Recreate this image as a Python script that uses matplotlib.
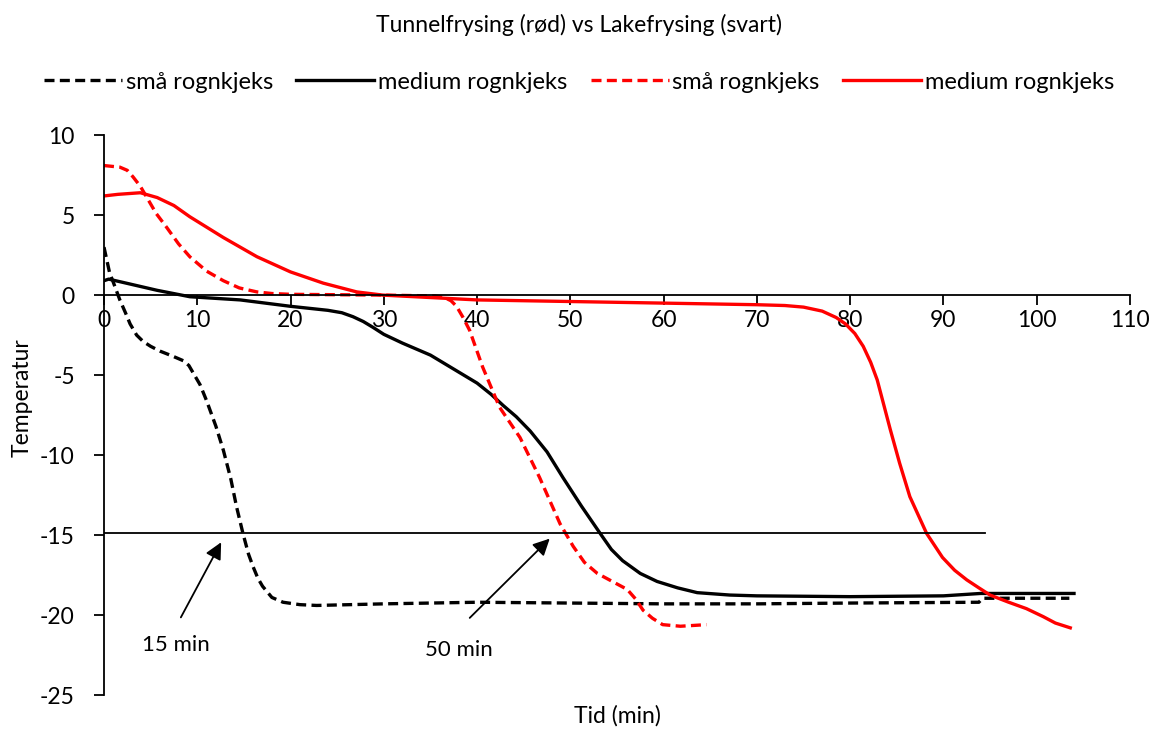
import matplotlib
matplotlib.use("Agg")
from matplotlib import pyplot as plt

plt.rcParams['font.family'] = ['Lato', 'DejaVu Sans']
plt.rcParams['axes.unicode_minus'] = False

# lakefrysing, små (svart stiplet)
lake_sma_x = [0, 0.3, 0.6, 1.0, 1.7, 2.3, 2.8, 3.5, 4.2, 5.0, 6.0, 7.3, 8.5, 9.1, 9.6, 10.3, 11.0, 12.0, 12.8, 13.6, 14.2, 14.9, 15.5, 16.0, 16.5, 17.0, 18.0, 19.2, 21.0, 22.8, 30, 40, 50, 60, 70, 80, 93.8, 94.2, 100, 103.5]
lake_sma_y = [3.0, 2.2, 1.4, 0.8, -0.3, -1.1, -1.8, -2.5, -2.9, -3.2, -3.5, -3.8, -4.1, -4.4, -4.9, -5.6, -6.6, -8.2, -9.7, -11.5, -13.2, -14.9, -16.2, -17.0, -17.7, -18.2, -18.9, -19.2, -19.35, -19.4, -19.3, -19.2, -19.25, -19.3, -19.3, -19.25, -19.2, -18.95, -18.95, -18.95]

# lakefrysing, medium (svart hel)
lake_med_x = [0, 0.5, 2.0, 5.7, 9.2, 14.6, 20.0, 24.0, 25.5, 26.7, 27.8, 28.8, 30.0, 32.0, 35.0, 38.0, 40.0, 41.5, 42.8, 44.2, 45.7, 47.5, 49.2, 51.2, 53.2, 54.4, 55.6, 57.5, 59.3, 61.5, 63.6, 67.1, 70, 80, 90, 94, 104]
lake_med_y = [0.9, 1.0, 0.8, 0.3, -0.1, -0.3, -0.7, -0.95, -1.1, -1.35, -1.65, -2.0, -2.45, -3.0, -3.75, -4.8, -5.5, -6.2, -6.9, -7.6, -8.5, -9.8, -11.4, -13.2, -14.9, -15.9, -16.6, -17.4, -17.9, -18.3, -18.6, -18.75, -18.8, -18.85, -18.8, -18.65, -18.65]

# tunnelfrysing, små (rød stiplet)
tunnel_sma_x = [0, 1.7, 2.5, 3.1, 3.9, 4.6, 5.6, 6.7, 8.0, 9.2, 11.0, 12.8, 14.5, 16.4, 18.0, 20.0, 30.0, 35.5, 36.5, 37.2, 37.8, 38.5, 39.2, 40.6, 42.4, 44.6, 46.7, 48.9, 50.3, 51.5, 52.9, 56.1, 57.0, 57.8, 58.8, 59.9, 61.8, 64.6]
tunnel_sma_y = [8.1, 8.0, 7.8, 7.4, 6.8, 6.1, 5.1, 4.25, 3.2, 2.4, 1.5, 0.9, 0.45, 0.2, 0.1, 0.05, 0.0, -0.05, -0.15, -0.35, -0.7, -1.4, -2.2, -4.5, -7.0, -8.9, -11.4, -14.3, -15.7, -16.7, -17.4, -18.4, -19.0, -19.7, -20.2, -20.6, -20.7, -20.6]

# tunnelfrysing, medium (rød hel)
tunnel_med_x = [0, 1.5, 3.9, 5.7, 7.5, 9.2, 12.8, 16.4, 20.0, 23.5, 27.1, 29.9, 40, 50, 60, 70, 73, 75, 77, 78.5, 79.5, 80.5, 81.4, 82.2, 82.9, 84.3, 85.3, 86.4, 88.2, 89.9, 91.2, 92.5, 93.8, 95.0, 97.0, 98.9, 100.7, 102.0, 103.6]
tunnel_med_y = [6.2, 6.3, 6.4, 6.1, 5.6, 4.9, 3.6, 2.4, 1.45, 0.75, 0.2, 0.0, -0.3, -0.4, -0.5, -0.6, -0.65, -0.75, -1.0, -1.4, -1.8, -2.4, -3.2, -4.2, -5.3, -8.4, -10.5, -12.6, -14.9, -16.4, -17.2, -17.8, -18.3, -18.75, -19.2, -19.6, -20.1, -20.5, -20.8]

grense_y = -14.9
grense_x = [0, 94.5]

fig = plt.figure(figsize=(11.58, 7.29), dpi=100)
ax = fig.add_axes([0.0898, 0.0466, 0.886, 0.768])

dash = (3.0, 1.6)
ax.plot(lake_sma_x, lake_sma_y, color="black", lw=2.4, dashes=dash, label="små rognkjeks")
ax.plot(lake_med_x, lake_med_y, color="black", lw=2.4, label="medium rognkjeks")
ax.plot(tunnel_sma_x, tunnel_sma_y, color="red", lw=2.4, dashes=dash, label="små rognkjeks")
ax.plot(tunnel_med_x, tunnel_med_y, color="red", lw=2.4, label="medium rognkjeks")

ax.plot(grense_x, [grense_y, grense_y], color="black", lw=1.3)

ax.annotate("", xy=(12.7, -15.3), xytext=(8.1, -20.3),
            arrowprops=dict(arrowstyle="-|>", color="black", lw=1.3, mutation_scale=25))
ax.annotate("", xy=(48.0, -15.1), xytext=(39.0, -20.3),
            arrowprops=dict(arrowstyle="-|>", color="black", lw=1.3, mutation_scale=25))
ax.text(7.7, -21.9, "15 min", fontsize=16, ha="center", va="center")
ax.text(38.0, -22.2, "50 min", fontsize=16, ha="center", va="center")

ax.set_xlim(0, 110)
ax.set_ylim(-25, 10)
ax.set_xticks(range(0, 111, 10))
ax.set_yticks(range(-25, 11, 5))
ax.spines['bottom'].set_position(('data', 0))
ax.spines['left'].set_position(('data', 0))
ax.spines['top'].set_visible(False)
ax.spines['right'].set_visible(False)
for s in ['bottom', 'left']:
    ax.spines[s].set_linewidth(1.3)
ax.tick_params(axis='both', direction='out', length=7, width=1.3, labelsize=16.5)
ax.tick_params(axis='y', pad=14)

fig.text(0.533, 0.018, "Tid (min)", fontsize=16.5, ha="center", va="center")
fig.text(0.019, 0.455, "Temperatur", fontsize=16.5, ha="center", va="center", rotation=90)
fig.text(0.5, 0.966, "Tunnelfrysing (rød) vs Lakefrysing (svart)", fontsize=16.5, ha="center", va="center")

fig.legend(loc="center", bbox_to_anchor=(0.5, 0.8875), ncol=4, frameon=False,
           fontsize=17, handlelength=3.3, handletextpad=0.15, columnspacing=1.0)

fig.savefig("out.png", dpi=100)
